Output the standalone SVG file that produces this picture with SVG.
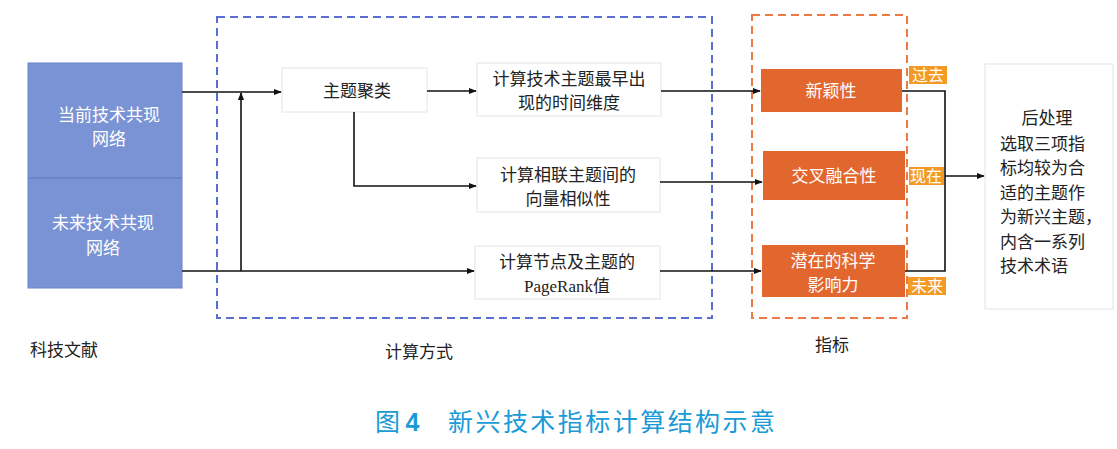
<svg xmlns="http://www.w3.org/2000/svg" width="1117" height="449" viewBox="0 0 1117 449">
<style>
.t{font-family:"Liberation Serif","Noto Sans CJK SC",serif;font-size:17px;fill:#222;text-anchor:middle}
.w{font-family:"Noto Sans CJK SC",sans-serif;font-size:17px;fill:#fff;text-anchor:middle}
.box{fill:#fff;stroke:#e4e4e4;stroke-width:1}
.org{fill:#e2672f}
.tag{fill:#f39a24}
.ln{fill:none;stroke:#111;stroke-width:1.6}
</style>
<defs>
<marker id="ar" viewBox="0 0 10 10" refX="9" refY="5" markerWidth="8" markerHeight="8" markerUnits="userSpaceOnUse" orient="auto"><path d="M0,1 L10,5 L0,9 z" fill="#111"/></marker>
</defs>
<rect width="1117" height="449" fill="#fff"/>
<rect x="217" y="17" width="495" height="301" fill="none" stroke="#5a6fd6" stroke-width="2" stroke-dasharray="8,5"/>
<rect x="752" y="15" width="155" height="303" fill="none" stroke="#ec7a45" stroke-width="2" stroke-dasharray="8,5"/>
<g id="src">
<rect x="28" y="63" width="154" height="225" fill="#7a93d5" stroke="#6a84cc"/>
<line x1="28" y1="178" x2="182" y2="178" stroke="#5c76c2" stroke-width="1"/>
<text class="w" x="109" y="121">当前技术共现</text>
<text class="w" x="109" y="145">网络</text>
<text class="w" x="103" y="229">未来技术共现</text>
<text class="w" x="103" y="254">网络</text>
</g>
<g id="cluster"><rect class="box" x="282" y="68" width="145" height="44"/><text class="t" x="357" y="97">主题聚类</text></g>
<g id="time"><rect class="box" x="477" y="63" width="184" height="53"/><text class="t" x="569" y="85">计算技术主题最早出</text><text class="t" x="569" y="109">现的时间维度</text></g>
<g id="sim"><rect class="box" x="477" y="158" width="183" height="54"/><text class="t" x="568" y="181">计算相联主题间的</text><text class="t" x="568" y="205">向量相似性</text></g>
<g id="pr"><rect class="box" x="475" y="246" width="185" height="53"/><text class="t" x="567" y="268">计算节点及主题的</text><text class="t" x="567" y="292">PageRank值</text></g>
<g id="novel"><rect class="org" x="761" y="69" width="141" height="43"/><text class="w" x="831" y="97">新颖性</text></g>
<g id="cross"><rect class="org" x="763" y="151" width="142" height="49"/><text class="w" x="834" y="182">交叉融合性</text></g>
<g id="impact"><rect class="org" x="762" y="245" width="143" height="52"/><text class="w" x="833" y="267">潜在的科学</text><text class="w" x="833" y="291">影响力</text></g>
<g id="tags">
<rect class="tag" x="909" y="66" width="38" height="18"/><text class="w" x="928" y="81" style="font-size:16px">过去</text>
<rect class="tag" x="909" y="167" width="35" height="18"/><text class="w" x="926" y="182" style="font-size:16px">现在</text>
<rect class="tag" x="908" y="277" width="38" height="18"/><text class="w" x="927" y="292" style="font-size:16px">未来</text>
</g>
<g id="post"><rect class="box" x="985" y="64" width="128" height="245"/>
<text class="t" x="1047" y="124">后处理</text>
<text class="t" x="1000" y="150" style="text-anchor:start">选取三项指</text>
<text class="t" x="1000" y="174" style="text-anchor:start">标均较为合</text>
<text class="t" x="1000" y="199" style="text-anchor:start">适的主题作</text>
<text class="t" x="1000" y="223" style="text-anchor:start">为新兴主题，</text>
<text class="t" x="1000" y="248" style="text-anchor:start">内含一系列</text>
<text class="t" x="1000" y="272" style="text-anchor:start">技术术语</text>
</g>
<g id="connectors">
<path class="ln" d="M182,92 L281,92" marker-end="url(#ar)"/>
<path class="ln" d="M241,271 L241,93" marker-end="url(#ar)"/>
<path class="ln" d="M182,271 L474,271" marker-end="url(#ar)"/>
<path class="ln" d="M427,91 L476,91" marker-end="url(#ar)"/>
<path class="ln" d="M354,112 L354,186 L476,186" marker-end="url(#ar)"/>
<path class="ln" d="M661,91 L760,91" marker-end="url(#ar)"/>
<path class="ln" d="M660,182 L762,182" marker-end="url(#ar)"/>
<path class="ln" d="M660,271 L761,271" marker-end="url(#ar)"/>
<path class="ln" d="M902,91 L945,91 L945,271 L905,271"/>
<path class="ln" d="M945,176 L984,176" marker-end="url(#ar)"/>
</g>
<text class="t" x="64" y="356">科技文献</text>
<text class="t" x="419" y="358">计算方式</text>
<text class="t" x="832" y="351">指标</text>
<text x="375" y="431" style="font-family:'Noto Sans CJK SC',sans-serif;font-size:25px;fill:#1a9ad6">图 <tspan font-weight="bold" font-family="Liberation Sans">4</tspan></text>
<text x="448" y="431" textLength="327" lengthAdjust="spacing" style="font-family:'Noto Sans CJK SC',sans-serif;font-size:25px;fill:#1a9ad6">新兴技术指标计算结构示意</text>
</svg>
